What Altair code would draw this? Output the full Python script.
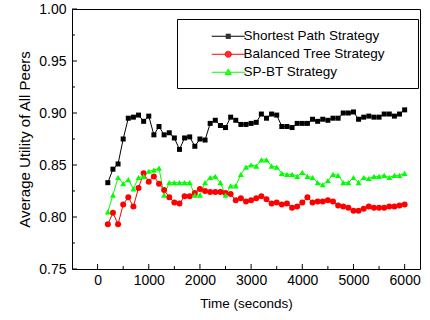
import altair as alt
import pandas as pd

times = list(range(200, 6001, 100))
series_names = ["Shortest Path Strategy", "Balanced Tree Strategy", "SP-BT Strategy"]

sp = [0.833, 0.846, 0.851, 0.875, 0.895, 0.896, 0.898, 0.892, 0.897, 0.879,
      0.887, 0.879, 0.881, 0.876, 0.865, 0.876, 0.877, 0.868, 0.875, 0.874,
      0.890, 0.893, 0.888, 0.886, 0.896, 0.893, 0.889, 0.889, 0.890, 0.891,
      0.899, 0.895, 0.899, 0.898, 0.887, 0.887, 0.886, 0.890, 0.890, 0.890,
      0.894, 0.892, 0.894, 0.893, 0.895, 0.895, 0.900, 0.900, 0.901, 0.894,
      0.896, 0.897, 0.896, 0.896, 0.899, 0.899, 0.897, 0.899, 0.903]

bt = [0.793, 0.804, 0.793, 0.812, 0.819, 0.810, 0.828, 0.842, 0.834, 0.839,
      0.832, 0.826, 0.819, 0.814, 0.813, 0.820, 0.820, 0.823, 0.827, 0.825,
      0.824, 0.824, 0.824, 0.823, 0.822, 0.816, 0.818, 0.815, 0.816, 0.818,
      0.820, 0.817, 0.813, 0.814, 0.812, 0.813, 0.809, 0.810, 0.814, 0.819,
      0.814, 0.815, 0.815, 0.816, 0.815, 0.811, 0.810, 0.809, 0.806, 0.806,
      0.808, 0.810, 0.809, 0.809, 0.809, 0.810, 0.810, 0.811, 0.812]

spbt = [0.805, 0.821, 0.838, 0.832, 0.836, 0.827, 0.838, 0.839, 0.844, 0.845,
        0.847, 0.821, 0.833, 0.833, 0.833, 0.833, 0.833, 0.821, 0.821, 0.833,
        0.838, 0.839, 0.833, 0.821, 0.830, 0.830, 0.841, 0.848, 0.850, 0.849,
        0.855, 0.855, 0.849, 0.848, 0.842, 0.841, 0.841, 0.839, 0.843, 0.839,
        0.838, 0.833, 0.831, 0.835, 0.841, 0.840, 0.833, 0.833, 0.838, 0.833,
        0.838, 0.837, 0.839, 0.839, 0.840, 0.838, 0.840, 0.840, 0.842]

colors = ["#000000", "#ff0000", "#00ff00"]
marker_shapes = ["square", "circle", "triangle-up"]
marker_sizes = [25, 36, 36]

x_ticks = [0, 1000, 2000, 3000, 4000, 5000, 6000]
x_minor = [500, 1500, 2500, 3500, 4500, 5500]
y_ticks = [0.75, 0.80, 0.85, 0.90, 0.95, 1.00]
y_minor = [0.775, 0.825, 0.875, 0.925, 0.975]

# legend symbols (unit = 5 px at symbolSize 100): line segment + marker,
# the marker filled by close stroked chords so it needs stroke only
seg = "M-3.3,0H3.3"
legend_paths = [
    seg + "M-0.5,-0.4H0.5M-0.5,-0.2H0.5M-0.5,0.2H0.5M-0.5,0.4H0.5",
    seg + "M-0.6,0A0.6,0.6 0 1,0 0.6,0A0.6,0.6 0 1,0 -0.6,0Z"
          "M-0.57,-0.2H0.57M-0.57,0.2H0.57M-0.45,-0.4H0.45M-0.45,0.4H0.45",
    seg + "M0,-0.65L0.6,0.45L-0.6,0.45Z"
          "M-0.57,0.4H0.57M-0.46,0.2H0.46M-0.25,-0.2H0.25M-0.14,-0.4H0.14",
]

rows = []
for name, vals in zip(series_names, [sp, bt, spbt]):
    for t, v in zip(times, vals):
        rows.append({"time": t, "value": v, "series": name})
df = pd.DataFrame(rows)

W, H = 348, 260
FONT = "Liberation Sans"

xscale = alt.Scale(domain=[-500, 6300], nice=False, zero=False)
yscale = alt.Scale(domain=[0.75, 1.0], nice=False, zero=False)
xaxis = alt.Axis(title="Time (seconds)", values=x_ticks, format="d",
                 labelPadding=4, titlePadding=9, titleFontSize=13.5)
yaxis = alt.Axis(title="Average Utility of All Peers", values=y_ticks,
                 format=".2f", labelPadding=6, titlePadding=6, titleFontSize=15)


def X():
    return alt.X("time:Q", scale=xscale, axis=xaxis)


def Y():
    return alt.Y("value:Q", scale=yscale, axis=yaxis)


base = alt.Chart(df)

lines = base.mark_line(strokeWidth=1).encode(
    x=X(), y=Y(),
    color=alt.Color("series:N", scale=alt.Scale(domain=series_names, range=colors), legend=None),
)

points = []
for name, c, s, sz in zip(series_names, colors, marker_shapes, marker_sizes):
    points.append(
        base.transform_filter(alt.datum.series == name)
        .mark_point(shape=s, filled=True, color=c, size=sz, opacity=1)
        .encode(x=X(), y=Y())
    )

common = dict(
    title=None, orient="none", padding=8, symbolSize=100,
    symbolOffset=26, rowPadding=4.5, labelFont=FONT,
    labelFontSize=13.5, labelColor="black", labelLimit=400,
)

# frame legend: all entries, invisible symbols and labels, gives the box
frame_leg = base.transform_filter("false").mark_point(opacity=1).encode(
    x=X(), y=Y(),
    shape=alt.Shape("series:N", scale=alt.Scale(domain=series_names, range=legend_paths),
                    legend=alt.Legend(legendX=105, legendY=10, labelOffset=44,
                                      strokeColor="black", fillColor="white",
                                      symbolOpacity=0, labelOpacity=0,
                                      labelExpr="datum.label + '    '", **common)),
)

entry_legs = []
for i, (name, c, p) in enumerate(zip(series_names, colors, legend_paths)):
    entry_legs.append(
        base.transform_filter("false")
        .mark_point(filled=False, color=c, opacity=1, strokeWidth=1)
        .encode(
            x=X(), y=Y(),
            shape=alt.Shape("series:N", scale=alt.Scale(domain=[name], range=[p]),
                            legend=alt.Legend(legendX=115.5, legendY=12.5 + 18 * i,
                                              labelOffset=8.5,
                                              symbolStrokeColor=c, symbolStrokeWidth=1,
                                              symbolOpacity=1, **common)),
        )
    )

xt = alt.Chart(pd.DataFrame({"time": x_ticks})).mark_rule(color="black", strokeWidth=1).encode(
    x=X(), y=alt.value(H), y2=alt.value(H - 5))
xm = alt.Chart(pd.DataFrame({"time": x_minor})).mark_rule(color="black", strokeWidth=1).encode(
    x=X(), y=alt.value(H), y2=alt.value(H - 3))
yt = alt.Chart(pd.DataFrame({"value": y_ticks})).mark_rule(color="black", strokeWidth=1).encode(
    y=Y(), x=alt.value(0), x2=alt.value(5))
ym = alt.Chart(pd.DataFrame({"value": y_minor})).mark_rule(color="black", strokeWidth=1).encode(
    y=Y(), x=alt.value(0), x2=alt.value(3))

chart = alt.layer(xt, xm, yt, ym, lines, *points, frame_leg, *entry_legs).resolve_scale(
    shape="independent"
).properties(
    width=W, height=H,
    padding={"left": 72, "top": 9, "right": 10, "bottom": 51},
    autosize="none",
    background="white",
).configure_view(
    stroke="black", strokeWidth=1
).configure_axis(
    labelFont=FONT, labelFontSize=14, labelColor="black",
    titleFont=FONT, titleFontWeight="normal", titleColor="black",
    grid=False, ticks=False, domain=False,
)

chart.save("out.html", embed_options={"renderer": "svg", "actions": False})
